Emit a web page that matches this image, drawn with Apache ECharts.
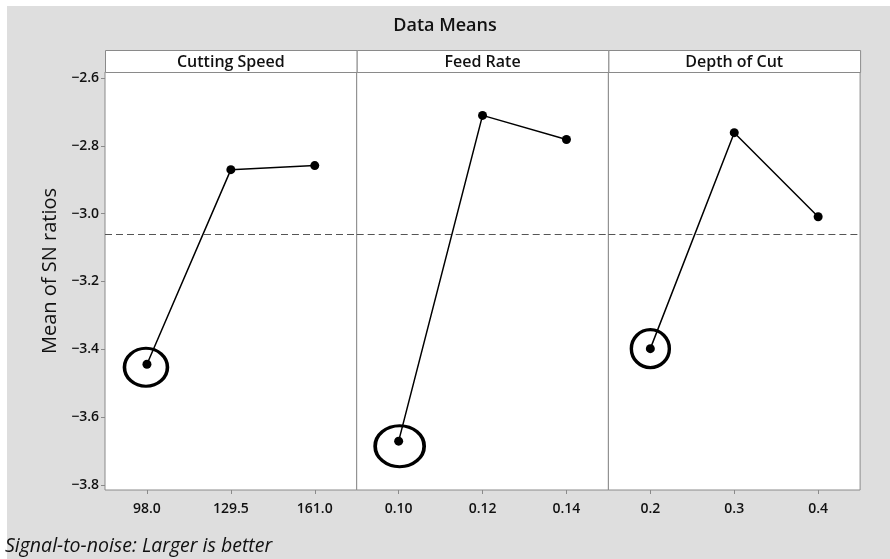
<!DOCTYPE html>
<html><head><meta charset="utf-8">
<script src="https://cdn.jsdelivr.net/npm/echarts@6/dist/echarts.min.js"></script>
<style>html,body{margin:0;padding:0;background:#fff}#c{width:890px;height:559px}</style>
</head><body><div id="c"></div>
<script>
const factors = ['Cutting Speed', 'Feed Rate', 'Depth of Cut'];
const speedLevels = ['98.0', '129.5', '161.0'];
const feedLevels = ['0.10', '0.12', '0.14'];
const depthLevels = ['0.2', '0.3', '0.4'];
const speedMeans = [-3.444, -2.870, -2.858];
const feedMeans = [-3.671, -2.710, -2.781];
const depthMeans = [-3.398, -2.761, -3.009];
const yTicks = [-3.8, -3.6, -3.4, -3.2, -3.0, -2.8, -2.6];

const levels = [speedLevels, feedLevels, depthLevels];
const means = [speedMeans, feedMeans, depthMeans];
const all = [].concat(speedMeans, feedMeans, depthMeans);
const grandMean = all.reduce((a, b) => a + b, 0) / all.length;

const FONT = '"Open Sans", "Noto Sans", sans-serif';
const panelLeft = 105, panelW = 251.7, plotTop = 72, plotH = 418, headH = 22;
const yMin = -3.815, yMax = -2.582;
const circleSizes = [[43, 38], [49, 41], [38, 38]];
const circleOffsets = [[-1, 3], [1, 5], [0, 0]];

const grids = [], xAxes = [], yAxes = [], series = [], graphics = [];
graphics.push({type: 'rect', left: 7, top: 6, shape: {width: 883, height: 553}, style: {fill: '#dedede'}, z: -10});
for (let i = 0; i < 3; i++) {
  const left = panelLeft + i * panelW;
  grids.push({left: left, top: plotTop, width: panelW, height: plotH, show: true,
    backgroundColor: '#fff', borderColor: '#8a8a8a', borderWidth: 1});
  xAxes.push({type: 'category', gridIndex: i, data: levels[i], boundaryGap: true,
    axisLine: {show: false},
    axisTick: {show: true, alignWithLabel: true, length: 4, lineStyle: {color: '#8a8a8a'}},
    axisLabel: {color: '#111', fontFamily: FONT, fontWeight: 600, fontSize: 14, margin: 12},
    splitLine: {show: false}});
  yAxes.push({type: 'value', gridIndex: i, min: yMin, max: yMax,
    axisLine: {show: false}, splitLine: {show: false},
    axisTick: {show: i === 0, length: 4, customValues: yTicks, lineStyle: {color: '#8a8a8a'}},
    axisLabel: {show: i === 0, customValues: yTicks, color: '#111', fontFamily: FONT, fontWeight: 600, fontSize: 14, margin: 6,
      formatter: v => (v < 0 ? '\u2212' : '') + Math.abs(v).toFixed(1)},
    name: i === 0 ? 'Mean of SN ratios' : '', nameLocation: 'middle', nameGap: 45,
    nameTextStyle: {color: '#111', fontFamily: FONT, fontSize: 20, padding: [0, 0, 0, 20]}});
  series.push({type: 'line', xAxisIndex: i, yAxisIndex: i,
    data: means[i].map((v, k) => [levels[i][k], v]),
    symbol: 'circle', symbolSize: 9, itemStyle: {color: '#000'},
    lineStyle: {color: '#000', width: 1.5}, z: 5,
    markLine: {silent: true, symbol: 'none', label: {show: false},
      lineStyle: {color: '#555', type: [7, 4], width: 1},
      data: [{yAxis: grandMean}]}});
  let mi = 0;
  means[i].forEach((v, k) => { if (v < means[i][mi]) mi = k; });
  series.push({type: 'scatter', xAxisIndex: i, yAxisIndex: i,
    data: [[levels[i][mi], means[i][mi]]],
    symbol: 'circle', symbolSize: circleSizes[i], symbolOffset: circleOffsets[i],
    itemStyle: {color: 'rgba(0,0,0,0)', borderColor: '#000', borderWidth: 3.4, opacity: 1}, z: 4});
  graphics.push({type: 'rect', left: left, top: plotTop - headH, shape: {width: panelW, height: headH},
    style: {fill: '#fff', stroke: '#8a8a8a', lineWidth: 1}, z: 10});
  graphics.push({type: 'text', x: left + panelW / 2, y: plotTop - headH / 2 + 1,
    style: {text: factors[i], fill: '#111', font: '600 16px ' + FONT, align: 'center', verticalAlign: 'middle'}, z: 11});
}
graphics.push({type: 'text', x: 5, y: 546,
  style: {text: 'Signal-to-noise: Larger is better', fill: '#111', font: 'italic 19.5px ' + FONT, verticalAlign: 'middle'}, z: 11});

const chart = echarts.init(document.getElementById('c'), null, {renderer: 'canvas'});
chart.setOption({
  animation: false,
  backgroundColor: '#fff',
  title: {text: 'Data Means', left: 'center', top: 12,
    textStyle: {color: '#111', fontFamily: FONT, fontWeight: 600, fontSize: 18}},
  grid: grids, xAxis: xAxes, yAxis: yAxes, series: series, graphic: graphics
});
</script></body></html>
